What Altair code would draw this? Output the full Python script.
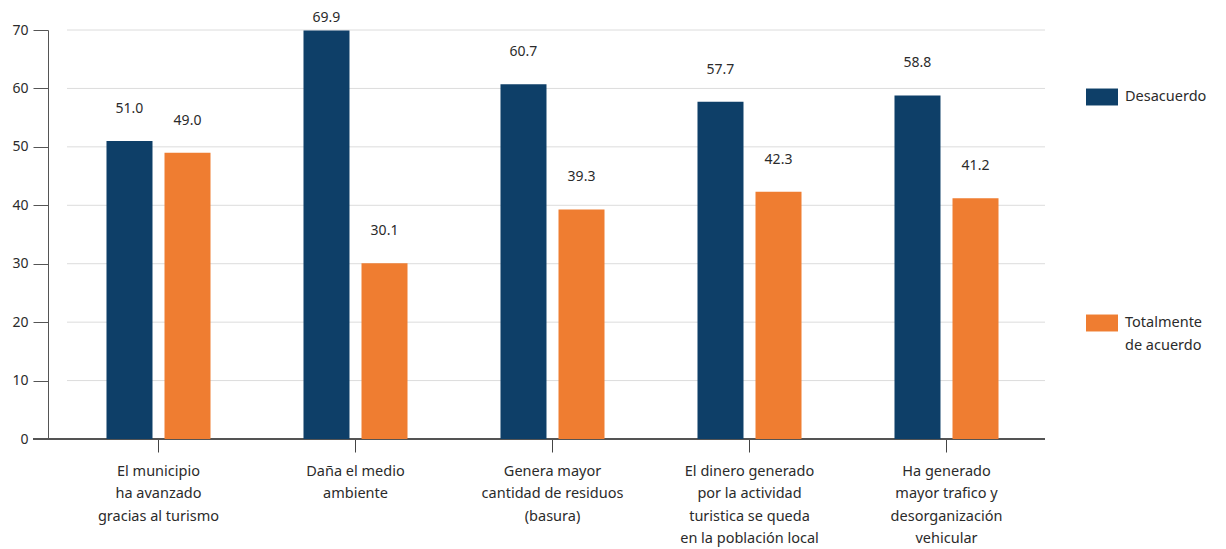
import altair as alt
import pandas as pd

categories = [
    "El municipio|ha avanzado|gracias al turismo",
    "Daña el medio|ambiente",
    "Genera mayor|cantidad de residuos|(basura)",
    "El dinero generado|por la actividad|turistica se queda|en la población local",
    "Ha generado|mayor trafico y|desorganización|vehicular",
]
series = ["Desacuerdo", "Totalmente de acuerdo"]
desacuerdo = [51.0, 69.9, 60.7, 57.7, 58.8]
totalmente = [49.0, 30.1, 39.3, 42.3, 41.2]
y_ticks = [0, 10, 20, 30, 40, 50, 60, 70]
colors = ["#0E3F68", "#EF7D31"]

rows = []
for c, a, b in zip(categories, desacuerdo, totalmente):
    rows.append({"cat": c, "serie": series[0], "val": a})
    rows.append({"cat": c, "serie": series[1], "val": b})
df = pd.DataFrame(rows)
grid_df = pd.DataFrame({"v": y_ticks[1:]})

W, H = 985, 409
FONT = "Noto Sans"
TXT = "#2b2b2b"

xenc = alt.X(
    "cat:N", sort=categories, title=None,
    scale=alt.Scale(paddingInner=0.472, paddingOuter=0.236),
    axis=alt.Axis(domain=False, tickSize=13, tickColor="#444", labelAngle=0,
                  labelExpr="split(datum.label, '|')", labelLineHeight=22.5,
                  labelPadding=12, labelFontSize=14.5, labelColor=TXT,
                  labelFont=FONT, labelBaseline="top"),
)
yscale = alt.Scale(domain=[0, 70], nice=False)
yaxis = alt.Axis(values=y_ticks, offset=12, tickSize=15, grid=False,
                 domainColor="#555", tickColor="#555",
                 labelFontSize=14, labelColor=TXT, labelFont=FONT,
                 labelPadding=5, title=None)

grid = alt.Chart(grid_df).mark_rule(color="#dcdcdc", strokeWidth=1).encode(
    y=alt.Y("v:Q", scale=yscale, axis=yaxis, title=None),
    x=alt.value(7), x2=alt.value(W),
)
base_line = alt.Chart(grid_df).mark_rule(color="#555", strokeWidth=1.3).encode(
    y=alt.datum(0, scale=yscale),
    x=alt.value(-27), x2=alt.value(W),
)

bars = alt.Chart(df).mark_bar().encode(
    x=xenc,
    xOffset=alt.XOffset("serie:N", sort=series,
                        scale=alt.Scale(paddingInner=0.207, paddingOuter=0)),
    y=alt.Y("val:Q", scale=yscale, title=None, axis=yaxis),
    color=alt.Color("serie:N", sort=series,
                    scale=alt.Scale(domain=series, range=colors),
                    legend=alt.Legend(
                        title=None, orient="none", legendX=1026, legendY=51,
                        symbolType="M-1,-0.53H1V0.53H-1Z", symbolSize=1024,
                        symbolStrokeWidth=0, labelOffset=7, rowPadding=201,
                        labelFontSize=14.5, labelFont=FONT, labelColor=TXT,
                        labelBaseline="middle",
                        labelExpr="split(replace(datum.label, 'Totalmente ', 'Totalmente|'), '|')")),
)

labels = alt.Chart(df).transform_calculate(
    ly="min(datum.val + 5.5, 72.0)"
).mark_text(fontSize=14, font=FONT, color=TXT, baseline="middle").encode(
    x=xenc,
    xOffset=alt.XOffset("serie:N", sort=series),
    y=alt.Y("ly:Q", scale=yscale, title=None),
    text=alt.Text("val:Q", format=".1f"),
)

chart = alt.layer(grid, base_line, bars, labels).properties(
    width=W, height=H,
    autosize=alt.AutoSizeParams(type="none"),
    padding={"left": 52, "top": 22, "right": 170, "bottom": 110},
).configure(font=FONT, style={"guide-label": {"lineHeight": 23}}).configure_view(stroke=None)

chart.save("out.html", embed_options={"renderer": "svg", "actions": False})
